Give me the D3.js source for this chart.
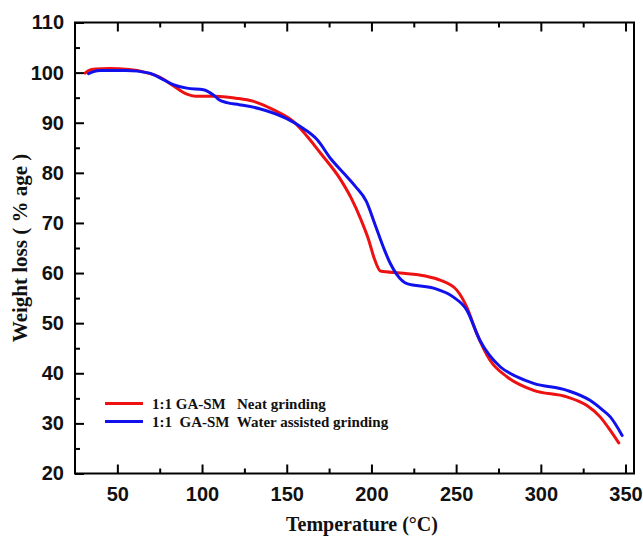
<!DOCTYPE html>
<html>
<head>
<meta charset="utf-8">
<script src="https://cdn.jsdelivr.net/npm/d3@7"></script>
<style>
  html, body { margin: 0; padding: 0; background: #fff; }
  svg { display: block; }
  .lg { white-space: pre; }
</style>
</head>
<body>
<svg id="chart" width="643" height="536"></svg>
<script>
// ---- data ----
const seriesNames = ["1:1 GA-SM   Neat grinding", "1:1  GA-SM  Water assisted grinding"];
const seriesColors = ["#ee1111", "#1111ee"];

const neatTemp = [31, 33, 37, 45, 57, 66, 75, 83, 91, 96, 108, 120, 130, 142, 154, 162, 170, 181.5, 188, 194, 198, 202, 205.3, 217, 232, 240.5, 250.4, 256.3, 262.2, 270, 280, 295.7, 315.4, 327, 335, 341, 346];
const neatWeight = [99.9, 100.4, 100.7, 100.8, 100.6, 100.1, 99.1, 97.4, 95.7, 95.3, 95.3, 94.9, 94.3, 92.6, 90.2, 87.3, 83.9, 78.8, 75.0, 70.5, 67.0, 62.6, 60.4, 60.0, 59.4, 58.6, 56.6, 53.2, 47.9, 42.6, 39.3, 36.6, 35.3, 33.6, 31.3, 28.6, 26.1];

const waterTemp = [33, 36, 40, 55, 69, 76, 83, 91, 100.8, 106.5, 110, 114.6, 122, 134, 150, 160, 168, 176, 184.5, 190.5, 197, 202, 207, 211, 215, 221, 236.6, 248.4, 256.3, 264, 276, 286, 295.7, 315.4, 329, 336, 341, 348];
const waterWeight = [99.8, 100.2, 100.4, 100.4, 99.9, 98.8, 97.6, 96.9, 96.6, 95.6, 94.6, 94.0, 93.6, 92.8, 90.8, 88.8, 86.6, 82.8, 79.6, 77.3, 74.3, 69.8, 65.2, 62.0, 59.7, 57.9, 57.0, 55.2, 52.6, 46.6, 41.3, 39.3, 38.0, 36.6, 34.6, 32.8, 31.3, 27.6];

const xMajorTicks = [50, 100, 150, 200, 250, 300, 350];
const xMinorTicks = [75, 125, 175, 225, 275, 325];
const yMajorTicks = [20, 30, 40, 50, 60, 70, 80, 90, 100, 110];
const yMinorTicks = [25, 35, 45, 55, 65, 75, 85, 95, 105];

const xTitle = "Temperature (°C)";
const yTitle = "Weight loss ( % age )";

// ---- layout ----
const L = 75, R = 634, T = 22.5, B = 473.5;
const svg = d3.select("#chart");

const x = d3.scaleLinear().domain([25, 355]).range([L, R]);
const y = d3.scaleLinear().domain([20, 110]).range([B, T]);

const tickFont = "'Liberation Sans', Arial, sans-serif";
const serifFont = "'Liberation Serif', 'Times New Roman', serif";

function styleAxis(g) {
  g.select(".domain").remove();
  g.selectAll(".tick line").attr("stroke", "#000").attr("stroke-width", 2);
  g.selectAll("text").attr("font-family", tickFont).attr("font-weight", "bold")
    .attr("font-size", 20).attr("fill", "#111");
}

// bottom axis (ticks inward)
svg.append("g").attr("transform", `translate(0,${B})`)
  .call(d3.axisBottom(x).tickValues(xMajorTicks).tickSize(-9).tickPadding(13).tickFormat(d3.format("d")))
  .call(styleAxis);
svg.append("g").attr("transform", `translate(0,${B})`)
  .call(d3.axisBottom(x).tickValues(xMinorTicks).tickSize(-5).tickFormat(""))
  .call(styleAxis);
// top axis
svg.append("g").attr("transform", `translate(0,${T})`)
  .call(d3.axisTop(x).tickValues(xMajorTicks).tickSize(-9).tickFormat(""))
  .call(styleAxis);
svg.append("g").attr("transform", `translate(0,${T})`)
  .call(d3.axisTop(x).tickValues(xMinorTicks).tickSize(-5).tickFormat(""))
  .call(styleAxis);
// left axis
svg.append("g").attr("transform", `translate(${L},0)`)
  .call(d3.axisLeft(y).tickValues(yMajorTicks).tickSize(-9).tickPadding(11).tickFormat(d3.format("d")))
  .call(styleAxis);
svg.append("g").attr("transform", `translate(${L},0)`)
  .call(d3.axisLeft(y).tickValues(yMinorTicks).tickSize(-5).tickFormat(""))
  .call(styleAxis);

// frame
svg.append("rect").attr("x", L).attr("y", T).attr("width", R - L).attr("height", B - T)
  .attr("fill", "none").attr("stroke", "#000").attr("stroke-width", 2);

// lines
const line = d3.line().x(d => x(d[0])).y(d => y(d[1])).curve(d3.curveMonotoneX);
const series = [
  d3.zip(neatTemp, neatWeight),
  d3.zip(waterTemp, waterWeight)
];
series.forEach((s, i) => {
  svg.append("path").datum(s).attr("d", line)
    .attr("fill", "none").attr("stroke", seriesColors[i]).attr("stroke-width", 3)
    .attr("stroke-linejoin", "round").attr("stroke-linecap", "round");
});

// legend
const legY = [403.5, 421.5];
seriesNames.forEach((n, i) => {
  svg.append("line").attr("x1", 105).attr("x2", 143).attr("y1", legY[i]).attr("y2", legY[i])
    .attr("stroke", seriesColors[i]).attr("stroke-width", 3);
  svg.append("text").attr("class", "lg").attr("x", 152).attr("y", legY[i] + 5)
    .attr("font-family", serifFont).attr("font-weight", "bold").attr("font-size", 15)
    .attr("fill", "#111").text(n);
});

// titles
svg.append("text").attr("x", 362).attr("y", 531).attr("text-anchor", "middle")
  .attr("font-family", serifFont).attr("font-weight", "bold").attr("font-size", 20)
  .attr("fill", "#111").text(xTitle);
svg.append("text").attr("transform", `translate(27,${(T + B) / 2}) rotate(-90)`)
  .attr("text-anchor", "middle")
  .attr("font-family", serifFont).attr("font-weight", "bold").attr("font-size", 21)
  .attr("fill", "#111").text(yTitle);
</script>
</body>
</html>
